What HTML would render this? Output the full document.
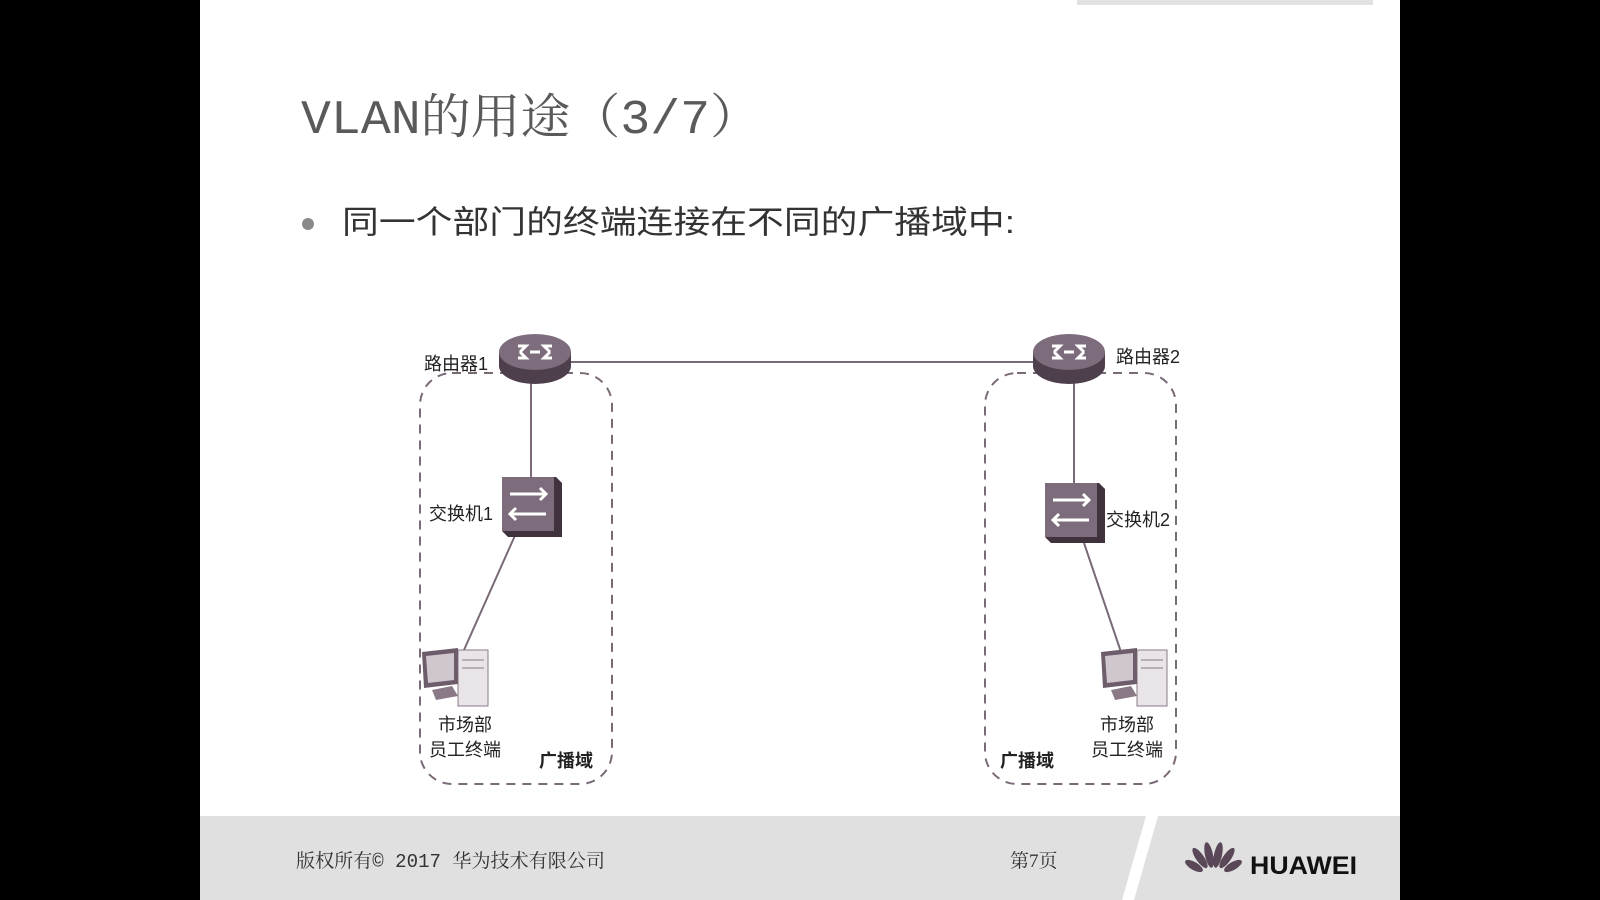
<!DOCTYPE html>
<html><head><meta charset="utf-8"><style>
html,body{margin:0;padding:0;background:#000;}
svg{display:block}
</style></head><body>
<svg width="1600" height="900" viewBox="0 0 1600 900" xmlns="http://www.w3.org/2000/svg" font-family="Liberation Sans, Noto Sans CJK SC, sans-serif">
<rect x="0" y="0" width="1600" height="900" fill="#000"/>
<rect x="200" y="0" width="1200" height="900" fill="#fff"/>
<rect x="1077" y="0" width="296" height="5" fill="#e2e2e2"/>
<!-- title -->
<text x="301" y="133" font-family="Liberation Mono, Noto Serif CJK SC, monospace" font-size="48" fill="#5a5a5a" textLength="459" lengthAdjust="spacingAndGlyphs">VLAN的用途（3/7）</text>
<circle cx="308" cy="224" r="6" fill="#8a8a8a"/>
<text x="342" y="233" font-size="32" fill="#333" textLength="673" lengthAdjust="spacingAndGlyphs">同一个部门的终端连接在不同的广播域中:</text>
<!-- dashed boxes -->
<rect x="420" y="373" width="192" height="411" rx="32" fill="none" stroke="#7a6a78" stroke-width="2" stroke-dasharray="9,7"/>
<rect x="985" y="373" width="191" height="411" rx="32" fill="none" stroke="#7a6a78" stroke-width="2" stroke-dasharray="9,7"/>
<!-- lines -->
<g stroke="#7a6a78" stroke-width="2">
<line x1="560" y1="362" x2="1045" y2="362"/>
<line x1="531" y1="375" x2="531" y2="478"/>
<line x1="517" y1="531" x2="464" y2="650"/>
<line x1="1074" y1="375" x2="1074" y2="484"/>
<line x1="1084" y1="543" x2="1122" y2="655"/>
</g>
<!-- routers -->
<g id="r1">
<ellipse cx="535" cy="366" rx="36" ry="18" fill="#4e3f4c"/>
<rect x="499" y="352" width="72" height="14" fill="#4e3f4c"/>
<ellipse cx="535" cy="352" rx="36" ry="18" fill="#7d6c7b"/>
<path d="M518 346 l8 0 l-6 6 M552 346 l-8 0 l6 6 M518 358 l8 0 l-6 -6 M552 358 l-8 0 l6 -6 M530 352 h10" stroke="#fff" stroke-width="3" fill="none"/>
</g>
<use href="#r1" transform="translate(534,0)"/>
<!-- switches -->
<g id="s1">
<polygon points="502,477 556,477 562,483 562,537 508,537 502,531" fill="#3f323d"/>
<rect x="502" y="477" width="52" height="54" fill="#7d6c7b"/>
<path d="M510 494 h36 M540 488 l6 6 -6 6 M546 514 h-36 M516 508 l-6 6 6 6" stroke="#fff" stroke-width="3" fill="none"/>
</g>
<use href="#s1" transform="translate(543,6)"/>
<!-- PCs -->
<g id="pc1">
<rect x="458" y="650" width="30" height="56" fill="#e8e4e8" stroke="#8a7a88"/>
<line x1="462" y1="660" x2="484" y2="660" stroke="#8a7a88"/>
<line x1="462" y1="668" x2="484" y2="668" stroke="#8a7a88"/>
<polygon points="422,652 458,648 458,684 424,688" fill="#6d5d6b"/>
<polygon points="426,656 454,653 454,680 428,683" fill="#cfc6ce"/>
<polygon points="432,690 452,686 458,696 436,700" fill="#8a7a88"/>
</g>
<use href="#pc1" transform="translate(679,0)"/>
<!-- labels -->
<g font-size="18" fill="#222">
<text x="424" y="370">路由器1</text>
<text x="1116" y="363">路由器2</text>
<text x="429" y="520">交换机1</text>
<text x="1106" y="526">交换机2</text>
<text x="465" y="731" text-anchor="middle">市场部</text>
<text x="465" y="756" text-anchor="middle">员工终端</text>
<text x="1127" y="731" text-anchor="middle">市场部</text>
<text x="1127" y="756" text-anchor="middle">员工终端</text>
<text x="539" y="767" font-weight="bold">广播域</text>
<text x="1000" y="767" font-weight="bold">广播域</text>
</g>
<!-- footer -->
<rect x="200" y="816" width="1200" height="84" fill="#e0e0e0"/>
<polygon points="1146,816 1158,816 1134,900 1122,900" fill="#fff"/>
<text x="296" y="867" font-family="Liberation Mono, Noto Serif CJK SC, monospace" font-size="19" fill="#333" textLength="309" lengthAdjust="spacingAndGlyphs">版权所有© 2017 华为技术有限公司</text>
<text x="1010" y="867" font-family="Liberation Serif, Noto Serif CJK SC, serif" font-size="19" fill="#333">第7页</text>
<g fill="#5a4858" transform="translate(-22,0)">
<ellipse cx="1216" cy="866" rx="4" ry="10" transform="rotate(-60 1216 866)"/>
<ellipse cx="1222" cy="858" rx="4" ry="12" transform="rotate(-35 1222 858)"/>
<ellipse cx="1231" cy="855" rx="4" ry="13" transform="rotate(-12 1231 855)"/>
<ellipse cx="1240" cy="855" rx="4" ry="13" transform="rotate(12 1240 855)"/>
<ellipse cx="1249" cy="858" rx="4" ry="12" transform="rotate(35 1249 858)"/>
<ellipse cx="1255" cy="866" rx="4" ry="10" transform="rotate(60 1255 866)"/>
</g>
<text x="1250" y="874" font-size="25" font-weight="bold" fill="#111" textLength="107" lengthAdjust="spacingAndGlyphs">HUAWEI</text>
</svg>
</body></html>
